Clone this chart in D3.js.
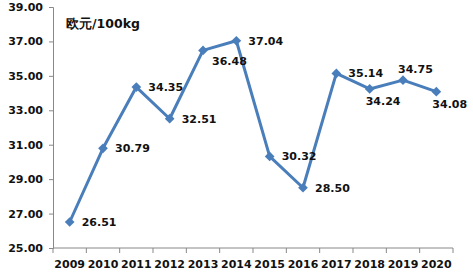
<!DOCTYPE html>
<html>
<head>
<meta charset="utf-8">
<script src="https://cdn.jsdelivr.net/npm/d3@7"></script>
<style>
  body { margin: 0; background: #fff; }
  text { font-family: "DejaVu Sans", Verdana, sans-serif; font-weight: bold; }
</style>
</head>
<body>
<svg></svg>
<script>
const width = 473;
const height = 278;

const years = ['2009','2010','2011','2012','2013','2014','2015','2016','2017','2018','2019','2020'];
const prices = [26.51, 30.79, 34.35, 32.51, 36.48, 37.04, 30.32, 28.50, 35.14, 34.24, 34.75, 34.08];
// where each value label sits relative to its point
const labelPos = ['r','r','r','r','br','r','r','r','r','b','t','b'];
const yTicks = [25, 27, 29, 31, 33, 35, 37, 39];
const unitLabel = '欧元/100kg';

const margin = {top: 7, right: 20, bottom: 30, left: 53};

const svg = d3.select('svg')
    .attr('width', width)
    .attr('height', height);

const x = d3.scaleBand()
    .domain(years)
    .range([margin.left, width - margin.right]);

const y = d3.scaleLinear()
    .domain([25, 39])
    .range([height - margin.bottom, margin.top]);

const cx = d => x(d) + x.bandwidth() / 2;

// y axis
const yAxis = svg.append('g')
    .attr('transform', `translate(${margin.left},0)`)
    .call(d3.axisLeft(y).tickValues(yTicks).tickFormat(d3.format('.2f')).tickSize(4).tickPadding(6));
yAxis.select('.domain').attr('stroke', '#888');
yAxis.selectAll('line').attr('stroke', '#888');
yAxis.selectAll('text').attr('font-size', 11).attr('fill', '#111');

// x axis with ticks between categories
const xAxis = svg.append('g')
    .attr('transform', `translate(0,${height - margin.bottom})`);
xAxis.append('line')
    .attr('x1', margin.left).attr('x2', width - margin.right)
    .attr('stroke', '#888');
xAxis.selectAll('.tk')
  .data(years.concat(['end']))
  .enter().append('line')
    .attr('x1', (d, i) => i < years.length ? x(d) : x(years[years.length - 1]) + x.bandwidth())
    .attr('x2', (d, i) => i < years.length ? x(d) : x(years[years.length - 1]) + x.bandwidth())
    .attr('y1', 0).attr('y2', 5)
    .attr('stroke', '#888');
xAxis.selectAll('.lbl')
  .data(years)
  .enter().append('text')
    .attr('x', cx)
    .attr('y', 20)
    .attr('text-anchor', 'middle')
    .attr('font-size', 11)
    .attr('fill', '#111')
    .text(d => d);

// unit label
svg.append('text')
    .attr('x', 66)
    .attr('y', 28)
    .attr('font-size', 12.5)
    .attr('fill', '#111')
    .text(unitLabel);

const data = years.map((yr, i) => ({year: yr, v: prices[i], pos: labelPos[i]}));

svg.append('path')
    .datum(data)
    .attr('fill', 'none')
    .attr('stroke', '#4a7ebb')
    .attr('stroke-width', 3)
    .attr('stroke-linejoin', 'round')
    .attr('d', d3.line().x(d => cx(d.year)).y(d => y(d.v)));

svg.selectAll('.pt')
  .data(data)
  .enter().append('path')
    .attr('transform', d => `translate(${cx(d.year)},${y(d.v)})`)
    .attr('d', d3.symbol(d3.symbolDiamond2, 60))
    .attr('fill', '#4a7ebb');

const dxOf = {r: 12, br: 9, b: -4, t: -5};
const dyOf = {r: 4, br: 15, b: 16, t: -7};

svg.selectAll('.val')
  .data(data)
  .enter().append('text')
    .attr('x', d => cx(d.year) + dxOf[d.pos])
    .attr('y', d => y(d.v) + dyOf[d.pos])
    .attr('font-size', 11)
    .attr('fill', '#111')
    .text(d => d3.format('.2f')(d.v));
</script>
</body>
</html>
